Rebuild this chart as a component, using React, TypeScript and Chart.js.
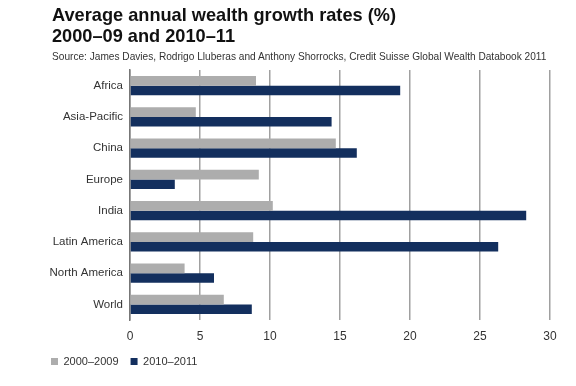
import React, { useEffect, useRef } from "react";
import { Chart, registerables } from "chart.js";

Chart.register(...registerables);

const categories = ["Africa", "Asia-Pacific", "China", "Europe", "India", "Latin America", "North America", "World"];
const growth2000_2009 = [9.0, 4.7, 14.7, 9.2, 10.2, 8.8, 3.9, 6.7];
const growth2010_2011 = [19.3, 14.4, 16.2, 3.2, 28.3, 26.3, 6.0, 8.7];
const seriesLabels = ["2000–2009", "2010–2011"];
const xTicks = [0, 5, 10, 15, 20, 25, 30];

const FONT = "'Liberation Sans', Arial, Helvetica, sans-serif";

export default function App() {
  const ref = useRef<HTMLCanvasElement | null>(null);

  useEffect(() => {
    document.body.style.margin = "0";
    const canvas = ref.current;
    if (!canvas) return;
    const chart = new Chart(canvas, {
      type: "bar",
      data: {
        labels: categories,
        datasets: [
          {
            label: seriesLabels[0],
            data: growth2000_2009,
            backgroundColor: "#adadad",
            categoryPercentage: 0.62,
            barPercentage: 1,
          },
          {
            label: seriesLabels[1],
            data: growth2010_2011,
            backgroundColor: "#132f5e",
            categoryPercentage: 0.62,
            barPercentage: 1,
          },
        ],
      },
      options: {
        indexAxis: "y",
        responsive: false,
        animation: false,
        layout: { padding: { left: 39, right: 26, top: 70, bottom: 9 } },
        scales: {
          x: {
            min: 0,
            max: 30,
            afterBuildTicks: (scale: any) => {
              scale.ticks = xTicks.map((v) => ({ value: v }));
            },
            afterFit: (scale: any) => {
              scale.height = 24;
            },
            grid: { color: "#a0a0a0", lineWidth: 1.5, drawTicks: false },
            border: { display: false },
            ticks: { color: "#333", font: { family: FONT, size: 12 }, padding: 9 },
          },
          y: {
            afterFit: (scale: any) => {
              scale.width = 91;
            },
            grid: { display: false, drawTicks: false },
            border: { display: true, color: "#777", width: 1.5 },
            ticks: { color: "#333", font: { family: FONT, size: 11.5 }, padding: 7 },
          },
        },
        plugins: {
          legend: {
            position: "bottom",
            align: "start",
            labels: {
              boxWidth: 7,
              boxHeight: 7,
              padding: 12,
              color: "#333",
              font: { family: FONT, size: 11 },
            },
          },
          tooltip: { enabled: false },
        },
      },
    });
    return () => chart.destroy();
  }, []);

  return (
    <div style={{ position: "relative", width: 576, height: 386, background: "#fff" }}>
      <canvas ref={ref} width={576} height={386} style={{ position: "absolute", left: 0, top: 0 }} />
      <div
        style={{
          position: "absolute",
          left: 52,
          top: 5,
          fontFamily: FONT,
          fontWeight: "bold",
          fontSize: 18.2,
          lineHeight: "21px",
          color: "#111",
        }}
      >
        Average annual wealth growth rates (%)
        <br />
        2000–09 and 2010–11
      </div>
      <div
        style={{
          position: "absolute",
          left: 52,
          top: 51,
          fontFamily: FONT,
          fontSize: 10.15,
          color: "#333",
          whiteSpace: "nowrap",
        }}
      >
        Source: James Davies, Rodrigo Lluberas and Anthony Shorrocks, Credit Suisse Global Wealth Databook 2011
      </div>
    </div>
  );
}
